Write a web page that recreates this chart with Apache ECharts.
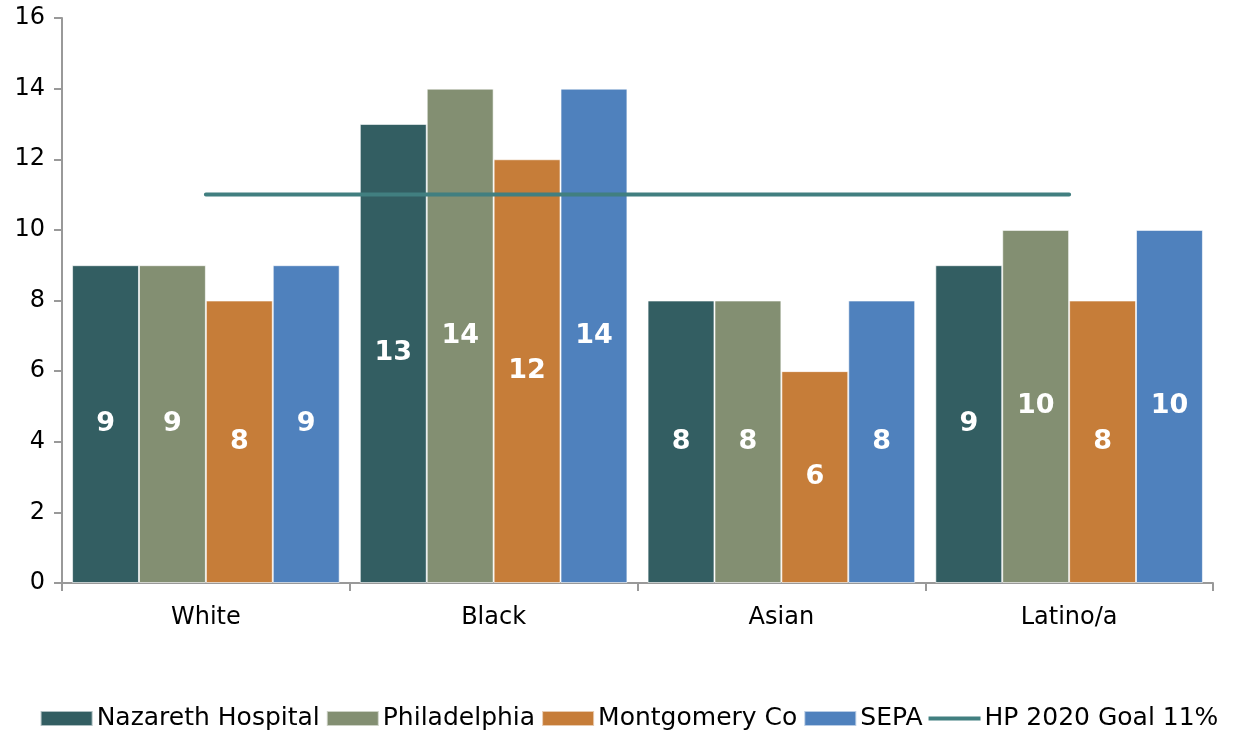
<!DOCTYPE html>
<html>
<head>
<meta charset="utf-8">
<script src="https://cdn.jsdelivr.net/npm/echarts@6/dist/echarts.min.js"></script>
<style>
html, body { margin: 0; padding: 0; background: #fff; }
#chart { width: 1258px; height: 736px; }
</style>
</head>
<body>
<div id="chart"></div>
<script>
const categories = ['White', 'Black', 'Asian', 'Latino/a'];
const nazareth = [9, 13, 8, 9];
const philadelphia = [9, 14, 8, 10];
const montgomery = [8, 12, 6, 8];
const sepa = [9, 14, 8, 10];
const goal = [11, 11, 11, 11];

const font = 'DejaVu Sans';
const chart = echarts.init(document.getElementById('chart'));

function barSeries(name, data, color) {
    return {
        name: name,
        type: 'bar',
        data: data,
        barGap: '0%',
        barCategoryGap: '7%',
        itemStyle: { color: color, borderColor: 'rgba(255,255,255,0.6)', borderWidth: 1 },
        label: {
            show: true,
            position: 'inside',
            color: '#fff',
            fontFamily: font,
            fontWeight: 'bold',
            fontSize: 27
        }
    };
}

chart.setOption({
    animation: false,
    textStyle: { fontFamily: font },
    grid: { left: 62, right: 45, top: 18, bottom: 153 },
    legend: {
        bottom: 0,
        left: 'center',
        itemWidth: 52,
        itemHeight: 15,
        itemGap: 6,
        textStyle: { fontFamily: font, fontSize: 25, color: '#000', padding: [0, 0, 0, -1] },
        data: [
            { name: 'Nazareth Hospital', icon: 'rect' },
            { name: 'Philadelphia', icon: 'rect' },
            { name: 'Montgomery Co', icon: 'rect' },
            { name: 'SEPA', icon: 'rect' },
            { name: 'HP 2020 Goal 11%', icon: 'path://M0,0 h100 v8 h-100 z' }
        ]
    },
    xAxis: {
        type: 'category',
        data: categories,
        axisLine: { lineStyle: { color: '#999', width: 2 } },
        axisTick: { show: true, length: 8, lineStyle: { color: '#999', width: 2 } },
        axisLabel: { color: '#000', fontSize: 24, margin: 23, fontFamily: font }
    },
    yAxis: {
        type: 'value',
        min: 0,
        max: 16,
        interval: 2,
        splitLine: { show: false },
        axisLine: { show: true, lineStyle: { color: '#999', width: 2 } },
        axisTick: { show: true, length: 8, lineStyle: { color: '#999', width: 2 } },
        axisLabel: { color: '#000', fontSize: 24, margin: 17, fontFamily: font }
    },
    series: [
        barSeries('Nazareth Hospital', nazareth, '#335E62'),
        barSeries('Philadelphia', philadelphia, '#838F72'),
        barSeries('Montgomery Co', montgomery, '#C67D39'),
        barSeries('SEPA', sepa, '#4F81BD'),
        {
            name: 'HP 2020 Goal 11%',
            type: 'line',
            data: goal,
            symbol: 'none',
            z: 5,
            lineStyle: { color: '#417F80', width: 4, cap: 'round' },
            itemStyle: { color: '#417F80' }
        }
    ]
});
</script>
</body>
</html>
